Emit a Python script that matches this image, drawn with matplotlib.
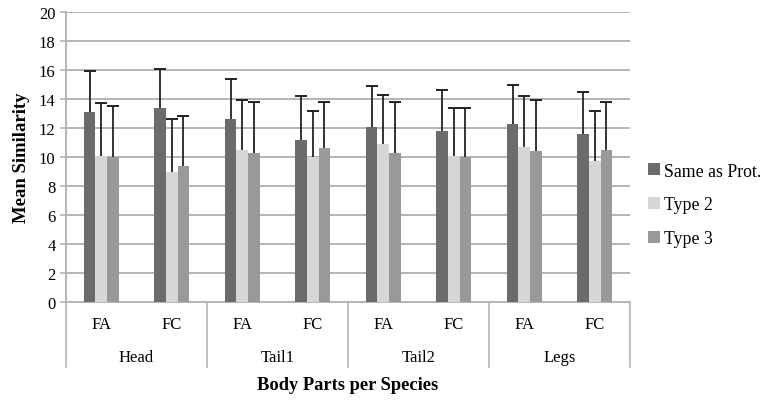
import numpy as np
import matplotlib.pyplot as plt
import matplotlib.transforms as mtransforms

plt.rcParams['font.family'] = ['Liberation Serif', 'DejaVu Serif']

# data
groups = ["Head", "Tail1", "Tail2", "Legs"]
species = ["FA", "FC"]
series_names = ["Same as Prot.", "Type 2", "Type 3"]
same_as_prot = [13.1, 13.4, 12.6, 11.2, 12.1, 11.8, 12.3, 11.6]
type2 = [10.1, 9.0, 10.5, 10.0, 10.9, 10.1, 10.7, 9.7]
type3 = [10.0, 9.4, 10.3, 10.6, 10.3, 10.0, 10.4, 10.5]
err_same = [2.8, 2.7, 2.8, 3.0, 2.8, 2.8, 2.7, 2.9]
err_type2 = [3.6, 3.6, 3.4, 3.2, 3.4, 3.3, 3.5, 3.5]
err_type3 = [3.5, 3.4, 3.5, 3.2, 3.5, 3.4, 3.5, 3.3]

colors = ["#6b6b6b", "#d6d6d6", "#999999"]

fig = plt.figure(figsize=(7.71, 4.02), dpi=100)
ax = fig.add_axes([66 / 771, 1 - 303 / 402, (630 - 66) / 771, (303 - 13) / 402])

x = np.arange(len(groups) * len(species))
w = 0.165
values = [same_as_prot, type2, type3]
errs = [err_same, err_type2, err_type3]
for i, (vals, e, c, name) in enumerate(zip(values, errs, colors, series_names)):
    pos = x + (i - 1) * w
    vals = np.array(vals)
    tops = vals + np.array(e)
    ax.bar(pos, vals, w, color=c, label=name, zorder=3)
    # upper error bar only, no cap at the bar top
    ax.vlines(pos, vals, tops, color="#222222", linewidth=1.3, zorder=4)
    ax.plot(pos, tops, linestyle="none", marker="_", markersize=8,
            markeredgewidth=1.4, color="#222222", zorder=4)

ax.set_xlim(-0.5, len(x) - 0.5)
ax.set_ylim(0, 20)
ax.set_yticks(range(0, 21, 2))
ax.yaxis.grid(True, color="#b4b4b4", linewidth=1.4, zorder=0)
ax.set_axisbelow(True)
for s in ["top", "right"]:
    ax.spines[s].set_visible(False)
ax.spines["left"].set_color("#b4b4b4")
ax.spines["left"].set_linewidth(1.4)
ax.spines["bottom"].set_color("#b4b4b4")
ax.spines["bottom"].set_linewidth(1.4)
ax.tick_params(axis="y", labelsize=12, color="#b4b4b4", length=4, width=1.2)
ax.set_xticks([])

# two-level category axis
trans = mtransforms.blended_transform_factory(ax.transData, ax.transAxes)
for j in range(len(x)):
    ax.text(x[j], -0.076, species[j % 2], transform=trans, ha="center",
            va="center", fontsize=12)
for g, name in enumerate(groups):
    ax.text(2 * g + 0.5, -0.19, name, transform=trans, ha="center",
            va="center", fontsize=12)
for b in range(len(groups) + 1):
    ax.plot([2 * b - 0.5, 2 * b - 0.5], [0, -0.224], transform=trans,
            color="#b4b4b4", linewidth=1.2, clip_on=False)

ax.text(0.5, -0.283, "Body Parts per Species", transform=ax.transAxes,
        ha="center", va="center", fontsize=13.3, fontweight="bold")
ax.set_ylabel("Mean Similarity", fontsize=13.5, fontweight="bold", labelpad=6)

fig.legend(loc="center left", bbox_to_anchor=(632 / 771, 1 - 206 / 402),
           frameon=False, fontsize=12.8, handlelength=0.65, handleheight=0.65,
           handletextpad=0.25, labelspacing=0.95)

fig.savefig("out.png", dpi=100)
